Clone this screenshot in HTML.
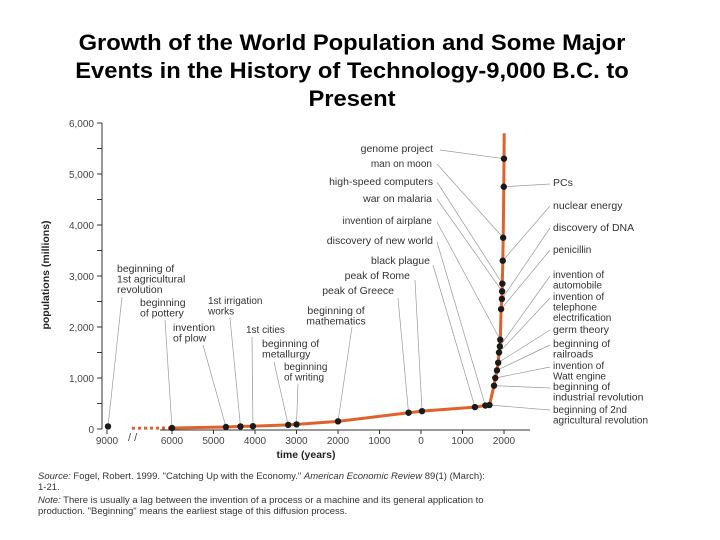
<!DOCTYPE html>
<html><head><meta charset="utf-8"><style>
html,body{margin:0;padding:0;background:#fff;}
svg{display:block;font-family:"Liberation Sans",sans-serif;}
</style></head><body>
<svg id="c" width="720" height="540" viewBox="0 0 720 540">
<g font-size="22" font-weight="bold" text-anchor="middle" fill="#000" transform="translate(352,0) scale(1.08,1) translate(-352,0)">
<text x="352" y="50">Growth of the World Population and Some Major</text>
<text x="352" y="78">Events in the History of Technology-9,000 B.C. to</text>
<text x="352" y="106">Present</text>
</g>
<g id="axes"></g>
<g id="leaders"></g>
<g id="series"></g>
<g id="labels"></g>
<text transform="translate(49,275) rotate(-90)" text-anchor="middle" font-size="10.5" font-weight="bold" fill="#222">populations (millions)</text>
<text x="306" y="458" text-anchor="middle" font-size="10.5" font-weight="bold" fill="#222">time (years)</text>
<g font-size="9.5" fill="#333">
<text x="38" y="479"><tspan font-style="italic">Source:</tspan> Fogel, Robert. 1999. "Catching Up with the Economy." <tspan font-style="italic">American Economic Review</tspan> 89(1) (March):</text>
<text x="38" y="490">1-21.</text>
<text x="38" y="503"><tspan font-style="italic">Note:</tspan> There is usually a lag between the invention of a process or a machine and its general application to</text>
<text x="38" y="514">production. "Beginning" means the earliest stage of this diffusion process.</text>
</g>
</svg>
<script>
const yTicks=[0,1000,2000,3000,4000,5000,6000];
const yTickLabels=["0","1,000","2,000","3,000","4,000","5,000","6,000"];
const xTicks=[-9000,-6000,-5000,-4000,-3000,-2000,-1000,0,1000,2000];
const xTickLabels=["9000","6000","5000","4000","3000","2000","1000","0","1000","2000"];
const years=[-8900,-6000,-4700,-4350,-4050,-3200,-3000,-2000,-300,25,1300,1550,1650,1760,1790,1830,1860,1880,1900,1910,1930,1950,1955,1960,1970,1980,1995,2000];
const pops=[50,20,40,50,55,80,90,150,320,350,430,460,470,850,1000,1150,1300,1500,1620,1750,2350,2550,2700,2850,3300,3750,4750,5300];
const lineEnd=[2005,5800];
const NS="http://www.w3.org/2000/svg";
function X(y){ if(y<-6000) return 107+(y+9000)/3000*30; return 421+y*0.04150; }
function Y(p){ return 429-p*0.051; }
function mk(tag,attrs,parent){const e=document.createElementNS(NS,tag);for(const k in attrs)e.setAttribute(k,attrs[k]);parent.appendChild(e);return e;}
const axes=document.getElementById('axes');
const yax=mk('line',{x1:102,y1:123,x2:102,y2:429,stroke:'#333','stroke-width':1},axes);


for(let v=0;v<=6000;v+=500){
  const t=mk('line',{x1:97,x2:102,y1:Y(v),y2:Y(v),stroke:'#333'},axes);
  
  
}
yTicks.forEach((v,i)=>{
  const t=mk('text',{x:94,y:Y(v)+4,'text-anchor':'end','font-size':10,fill:'#444'},axes);
  t.textContent=yTickLabels[i];
  
  
});
const xax=mk('line',{x1:160,y1:430,x2:530,y2:430,stroke:'#333'},axes);


xTicks.forEach((v,i)=>{
  const tk=mk('line',{x1:X(v),x2:X(v),y1:430,y2:434,stroke:'#333'},axes);
  
  
  const t=mk('text',{x:X(v),y:444,'text-anchor':'middle','font-size':10,fill:'#444'},axes);
  t.textContent=xTickLabels[i];
  
  
});
const brk=mk('text',{x:128,y:441,'font-size':11,fill:'#444'},axes);
brk.textContent='/  /';


const ser=document.getElementById('series');
const dash=mk('line',{x1:X(-6500),y1:Y(15),x2:X(years[1]),y2:Y(pops[1]),stroke:'#e0622a','stroke-width':3,'stroke-dasharray':'3,3'},ser);


let d='';
for(let i=1;i<years.length;i++) d+=(i==1?'M':'L')+X(years[i]).toFixed(1)+','+Y(pops[i]).toFixed(1);
d+='L'+X(lineEnd[0]).toFixed(1)+','+Y(lineEnd[1]).toFixed(1);
const pl=mk('path',{d:d,fill:'none',stroke:'#e0622a','stroke-width':3,'stroke-linejoin':'round'},ser);


years.forEach((y,i)=>{
  const c=mk('circle',{cx:X(y),cy:Y(pops[i]),r:3.2,fill:'#1a1a1a'},ser);
  
  
});
const labels=[
 [["beginning of","1st agricultural","revolution"],117,272,'start',10.5,122,297,0],
 [["beginning","of pottery"],140,306,'start',10.5,165,320,1],
 [["1st irrigation","works"],208,304,'start',10,230,318,3],
 [["invention","of plow"],173,331,'start',10.5,203,345,2],
 [["1st cities"],246,333,'start',10,252,337,4],
 [["beginning of","metallurgy"],262,347,'start',10.5,274,362,5],
 [["beginning","of writing"],284,370,'start',10,298,384,6],
 [["beginning of","mathematics"],336,314,'middle',10.5,352,327,7],
 [["peak of Greece"],394,294,'end',10.5,398,298,8],
 [["peak of Rome"],410,279,'end',10.5,415,280,9],
 [["black plague"],430,264,'end',10.5,433,265,10],
 [["discovery of new world"],433,244,'end',10.5,437,242,11],
 [["invention of airplane"],432,224,'end',10,437,222,19],
 [["war on malaria"],432,202,'end',10.5,437,199,22],
 [["high-speed computers"],433,185,'end',10.5,437,182,23],
 [["man on moon"],432,167,'end',10,437,164,25],
 [["genome project"],433,152,'end',10.5,440,150,27],
 [["PCs"],553,186,'start',10.5,550,184,26],
 [["nuclear energy"],553,209,'start',10.5,550,206,24],
 [["discovery of DNA"],553,231,'start',10.5,550,228,21],
 [["penicillin"],553,253,'start',10,550,250,20],
 [["invention of","automobile"],553,278,'start',10,550,276,18],
 [["invention of","telephone","electrification"],553,300,'start',10,550,298,17],
 [["germ theory"],553,333,'start',10.5,550,330,16],
 [["beginning of","railroads"],553,347,'start',10.5,550,345,15],
 [["invention of","Watt engine"],553,369,'start',10,550,367,14],
 [["beginning of","industrial revolution"],553,390,'start',10.5,550,388,13],
 [["beginning of 2nd","agricultural revolution"],553,413,'start',10,550,410,12]
];
const lg=document.getElementById('leaders'), lb=document.getElementById('labels');
labels.forEach(L=>{
  const ln=mk('line',{x1:L[5],y1:L[6],x2:X(years[L[7]]),y2:Y(pops[L[7]]),stroke:'#999','stroke-width':0.7},lg);
  
  
  const t=mk('text',{x:L[1],y:L[2],'text-anchor':L[3],'font-size':L[4],fill:'#333'},lb);
  
  
  L[0].forEach((s,j)=>{const ts=mk('tspan',{x:L[1],dy:j?10.5:0},t);ts.textContent=s;});
});
</script>
</body></html>
